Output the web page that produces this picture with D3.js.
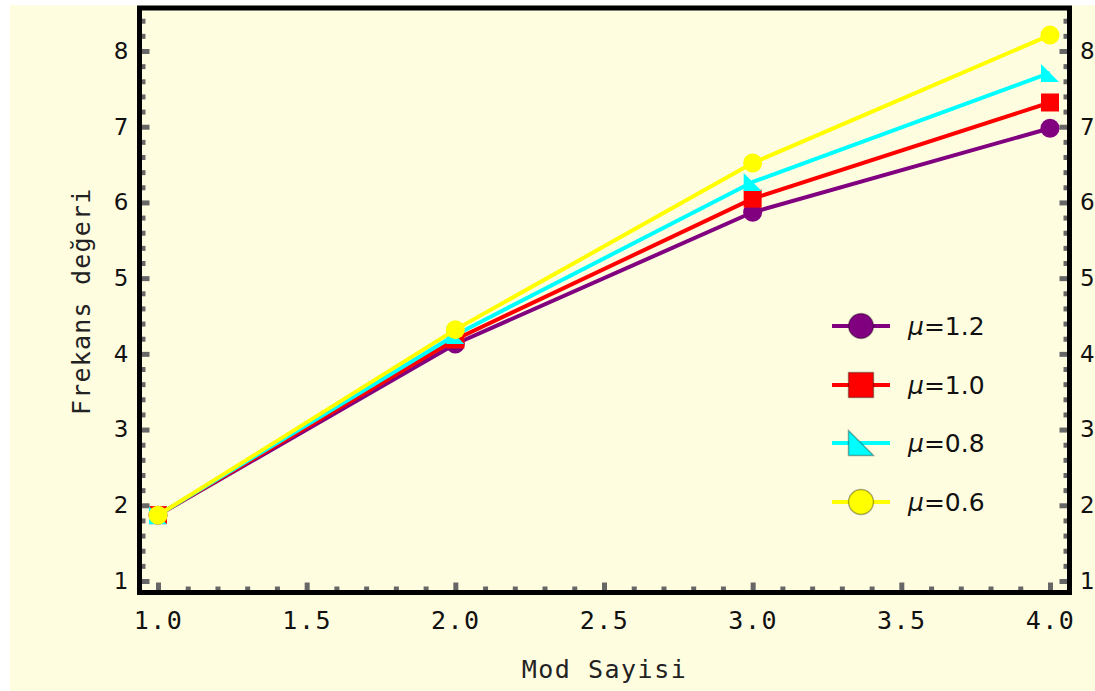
<!DOCTYPE html>
<html>
<head>
<meta charset="utf-8">
<script src="https://cdn.jsdelivr.net/npm/d3@7"></script>
<style>
html,body{margin:0;padding:0;background:#ffffff;}
svg{display:block;}
</style>
</head>
<body>
<svg id="chart" width="1095" height="691"></svg>
<script>
// ---- data ----
const modes = [1, 2, 3, 4];
const mu12 = [1.87, 4.13, 5.87, 6.98];
const mu10 = [1.87, 4.19, 6.05, 7.32];
const mu08 = [1.87, 4.25, 6.27, 7.71];
const mu06 = [1.87, 4.32, 6.52, 8.21];
const seriesLabels = ["1.2", "1.0", "0.8", "0.6"];
const seriesColors = ["#800080", "#ff0000", "#00ffff", "#ffff00"];
const seriesShapes = ["circle", "square", "triangle", "circle"];
const xTicks = [1.0, 1.5, 2.0, 2.5, 3.0, 3.5, 4.0];
const yTicks = [1, 2, 3, 4, 5, 6, 7, 8];
const xTitle = "Mod Sayisi";
const yTitle = "Frekans değeri";

const seriesValues = [mu12, mu10, mu08, mu06];

// ---- layout ----
const svg = d3.select("#chart");
const L = 139.5, R = 1069.5, T = 8, B = 592.5;

svg.append("rect").attr("x", 10).attr("y", 5).attr("width", 1085).attr("height", 686).attr("fill", "#fffde0");

const x = d3.scaleLinear().domain([1, 4]).range([158, 1050]);
const y = d3.scaleLinear().domain([1, 8]).range([581, 51]);

const xMinor = d3.range(10, 41).map(v => v / 10).filter(v => Math.abs(v * 2 - Math.round(v * 2)) > 1e-6);
const yMinor = d3.range(5, 43).map(v => v / 5).filter(v => Math.abs(v - Math.round(v)) > 1e-6 && y(v) > T + 3);

function styleTicks(g, w) {
  g.select(".domain").remove();
  g.selectAll(".tick line").attr("stroke", "#666").attr("stroke-width", w);
  g.selectAll("text").remove();
}

// bottom ticks
svg.append("g").attr("transform", `translate(0,${B})`)
  .call(d3.axisBottom(x).tickValues(xMinor).tickSize(-6).tickFormat(""))
  .call(g => styleTicks(g, 5));
svg.append("g").attr("transform", `translate(0,${B})`)
  .call(d3.axisBottom(x).tickValues(xTicks).tickSize(-10).tickFormat(""))
  .call(g => styleTicks(g, 5));
// left ticks
svg.append("g").attr("transform", `translate(${L},0)`)
  .call(d3.axisLeft(y).tickValues(yMinor).tickSize(-6).tickFormat(""))
  .call(g => styleTicks(g, 5));
svg.append("g").attr("transform", `translate(${L},0)`)
  .call(d3.axisLeft(y).tickValues(yTicks).tickSize(-10).tickFormat(""))
  .call(g => styleTicks(g, 5));
// right ticks
svg.append("g").attr("transform", `translate(${R},0)`)
  .call(d3.axisRight(y).tickValues(yMinor).tickSize(-6).tickFormat(""))
  .call(g => styleTicks(g, 5));
svg.append("g").attr("transform", `translate(${R},0)`)
  .call(d3.axisRight(y).tickValues(yTicks).tickSize(-10).tickFormat(""))
  .call(g => styleTicks(g, 5));

// frame
svg.append("rect").attr("x", L).attr("y", T).attr("width", R - L).attr("height", B - T)
  .attr("fill", "none").attr("stroke", "#000").attr("stroke-width", 5);

// tick labels
const monoFont = "'DejaVu Sans Mono', monospace";
const sansFont = "'DejaVu Sans', sans-serif";

const xl = svg.append("g").attr("transform", `translate(0,${B})`)
  .call(d3.axisBottom(x).tickValues(xTicks).tickSize(0).tickPadding(18.5).tickFormat(d3.format(".1f")));
xl.select(".domain").remove();
xl.selectAll("text").attr("font-family", monoFont).attr("font-size", 25)
  .attr("letter-spacing", "1.5px").attr("fill", "#111");

const yl = svg.append("g").attr("transform", `translate(${L},0)`)
  .call(d3.axisLeft(y).tickValues(yTicks).tickSize(0).tickPadding(11).tickFormat(d3.format("d")));
yl.select(".domain").remove();
yl.selectAll("text").attr("font-family", sansFont).attr("font-size", 23).attr("fill", "#111");

const yr = svg.append("g").attr("transform", `translate(${R},0)`)
  .call(d3.axisRight(y).tickValues(yTicks).tickSize(0).tickPadding(10.5).tickFormat(d3.format("d")));
yr.select(".domain").remove();
yr.selectAll("text").attr("font-family", sansFont).attr("font-size", 23).attr("fill", "#111");

// axis titles
svg.append("text").attr("x", (L + R) / 2).attr("y", 678).attr("text-anchor", "middle")
  .attr("font-family", monoFont).attr("font-size", 25).attr("letter-spacing", "1.5px")
  .attr("fill", "#222").text(xTitle);
svg.append("text").attr("transform", `translate(90,${(T + B) / 2 + 1}) rotate(-90)`)
  .attr("text-anchor", "middle")
  .attr("font-family", monoFont).attr("font-size", 25).attr("letter-spacing", "1.2px")
  .attr("fill", "#222").text(yTitle);

// marker drawing
function drawMarker(g, shape, cx, cy, size, color, outline) {
  let m;
  if (shape === "circle") {
    m = g.append("circle").attr("cx", cx).attr("cy", cy).attr("r", size / 2);
  } else if (shape === "square") {
    m = g.append("rect").attr("x", cx - size / 2).attr("y", cy - size / 2).attr("width", size).attr("height", size);
  } else {
    const h = size / 2;
    m = g.append("path").attr("d", `M${cx - h},${cy - h}L${cx - h},${cy + h}L${cx + h},${cy + h}Z`);
  }
  m.attr("fill", color);
  if (outline) m.attr("stroke", "rgba(0,0,0,0.33)").attr("stroke-width", 1.5);
  else m.attr("stroke", "none");
}

// series
const line = d3.line().x(d => x(d[0])).y(d => y(d[1]));
const plot = svg.append("g");
seriesValues.forEach((vals, i) => {
  const pts = modes.map((m, j) => [m, vals[j]]);
  const g = plot.append("g");
  g.append("path").attr("d", line(pts)).attr("fill", "none")
    .attr("stroke", seriesColors[i]).attr("stroke-width", 4).attr("stroke-linejoin", "round");
  const sz = seriesShapes[i] === "circle" ? 19 : 18;
  pts.forEach(p => drawMarker(g, seriesShapes[i], x(p[0]), y(p[1]), sz, seriesColors[i], false));
});

// legend
const legend = svg.append("g");
const legY = [326, 385, 443, 502];
seriesLabels.forEach((lab, i) => {
  const g = legend.append("g");
  g.append("line").attr("x1", 832).attr("x2", 890).attr("y1", legY[i]).attr("y2", legY[i])
    .attr("stroke", seriesColors[i]).attr("stroke-width", 4);
  drawMarker(g, seriesShapes[i], 861, legY[i], 25, seriesColors[i], true);
  const t = g.append("text").attr("x", 908).attr("y", legY[i]).attr("dy", "0.36em")
    .attr("font-family", sansFont).attr("font-size", 25).attr("fill", "#111");
  t.append("tspan").attr("font-style", "italic").text("μ");
  t.append("tspan").text("=" + lab);
});
</script>
</body>
</html>
